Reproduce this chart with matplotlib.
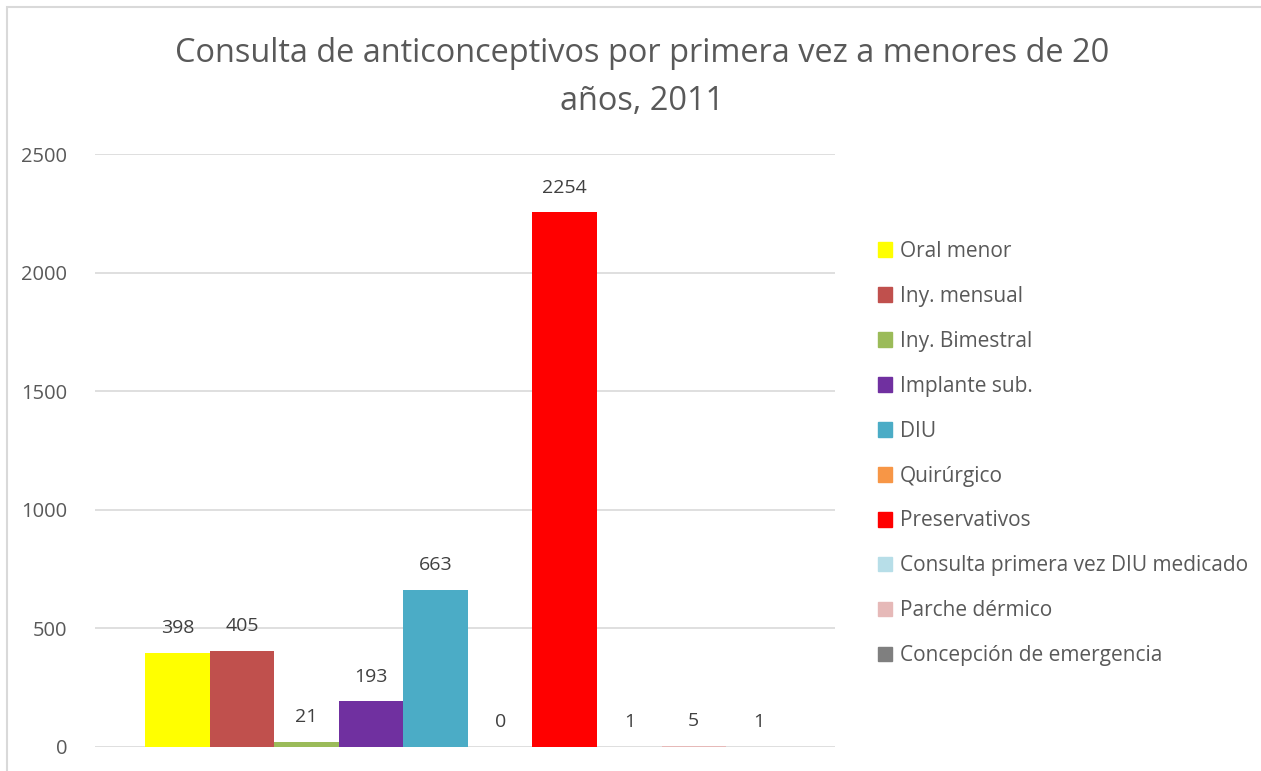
import matplotlib.pyplot as plt
import matplotlib.patches as mpatches
import numpy as np

plt.rcParams['font.family'] = ['Open Sans', 'DejaVu Sans']

series = ['Oral menor', 'Iny. mensual', 'Iny. Bimestral', 'Implante sub.', 'DIU',
          'Quirúrgico', 'Preservativos', 'Consulta primera vez DIU medicado',
          'Parche dérmico', 'Concepción de emergencia']
values = [398, 405, 21, 193, 663, 0, 2254, 1, 5, 1]
colors = ['#FFFF00', '#C0504D', '#9BBB59', '#7030A0', '#4BACC6',
          '#F79646', '#FF0000', '#B7DEE8', '#E6B9B8', '#7F7F7F']
yticks = [0, 500, 1000, 1500, 2000, 2500]

W, H = 1261, 771
fig = plt.figure(figsize=(W / 100, H / 100), dpi=100)
# chart frame (cropped on the right/bottom)
fig.patches.append(mpatches.Rectangle((7 / W, -0.1), 1.2, 1 - 7 / H + 0.1,
                                      transform=fig.transFigure, fill=False,
                                      edgecolor='#D9D9D9', linewidth=1.5))

ax = fig.add_axes([95 / W, 1 - 747 / H, 740 / W, (747 - 154) / H])
n = len(values)
bw = 0.872 / n
for i, (v, c, s) in enumerate(zip(values, colors, series)):
    x = 0.004 + (i - (n - 1) / 2) * bw
    ax.bar(x, v, width=bw, color=c, label=s, zorder=3)
    ax.text(x, v + 66, str(v), ha='center', va='bottom', fontsize=14, color='#404040')

ax.set_xlim(-0.5, 0.5)
ax.set_ylim(0, 2500)
ax.set_yticks(yticks)
ax.set_xticks([])
ax.tick_params(axis='y', length=0, pad=20, labelsize=14.5, labelcolor='#595959')
ax.grid(axis='y', color='#D9D9D9', linewidth=1.2, zorder=0)
for sp in ax.spines.values():
    sp.set_visible(False)

fig.text(642 / W, 1 - 54 / H, 'Consulta de anticonceptivos por primera vez a menores de 20',
         ha='center', va='center', fontsize=23.4, color='#595959')
fig.text(642 / W, 1 - 101 / H, 'años, 2011', ha='center', va='center', fontsize=23.4,
         color='#595959')

handles = [mpatches.Patch(color=c) for c in colors]
fig.legend(handles, series, loc='upper left', bbox_to_anchor=(859 / W, 1 - 222 / H),
           frameon=False, fontsize=15, labelcolor='#595959', handlelength=0.7,
           handleheight=0.7, handletextpad=0.35, labelspacing=1.15)

fig.savefig('out.png', dpi=100)
